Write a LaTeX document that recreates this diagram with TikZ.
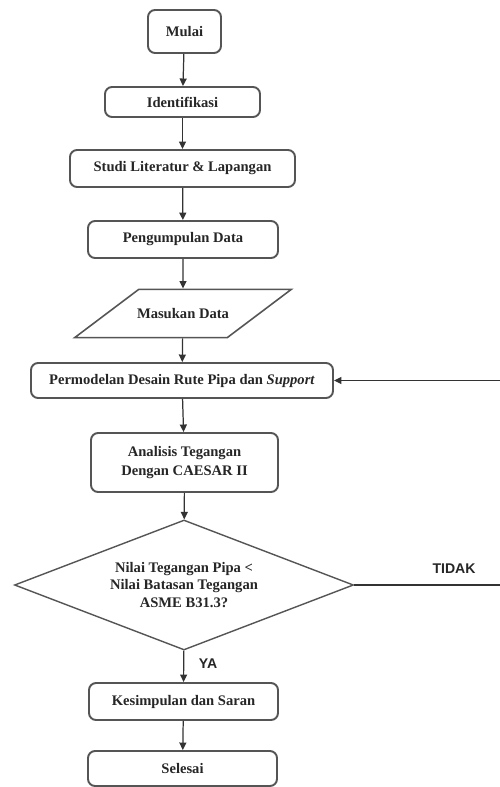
\documentclass[tikz,border=0pt]{standalone}
\usepackage{fontspec}
\setmainfont{Liberation Serif}
\newfontfamily\lblfont{Liberation Sans}
\usetikzlibrary{arrows.meta,shapes.geometric}
\definecolor{ink}{HTML}{262626}
\definecolor{edge}{HTML}{555555}
\definecolor{wire}{HTML}{333333}
\tikzset{
  proc/.style={draw=edge, line width=1.1pt, rounded corners=4pt, fill=white, align=center,
               font=\fontsize{8.3}{11.2}\selectfont\bfseries, text=ink, inner sep=2pt},
  io/.style={draw=edge, line width=0.9pt, trapezium, trapezium left angle=37, trapezium right angle=143,
             trapezium stretches body=true, fill=white, align=center,
             font=\fontsize{8.3}{11.2}\selectfont\bfseries, text=ink, inner xsep=-1pt, inner ysep=0.38cm},
  dec/.style={draw=edge, line width=0.8pt, diamond, aspect=2.6, fill=white, align=center,
              font=\fontsize{8.3}{10.2}\selectfont\bfseries, text=ink, inner sep=1pt},
  flow/.style={-{Triangle[length=1.5mm,width=1.4mm]}, line width=0.7pt, draw=wire},
  ans/.style={font=\lblfont\fontsize{8}{9}\selectfont\bfseries, text=ink},
}

\begin{document}
\begin{tikzpicture}
\useasboundingbox (0,0) rectangle (9.98,-15.74);
  % main chain
  \node[proc, minimum width=1.46cm, minimum height=0.86cm] (mulai) at (3.69,-0.63) {Mulai};
  \node[proc, minimum width=3.10cm, minimum height=0.60cm] (ident) at (3.65,-2.04) {Identifikasi};
  \node[proc, minimum width=4.50cm, minimum height=0.74cm] (studi) at (3.65,-3.37) {Studi Literatur \& Lapangan};
  \node[proc, minimum width=3.80cm, minimum height=0.74cm] (kumpul) at (3.66,-4.79) {Pengumpulan Data};
  \node[io] (masuk) at (3.66,-6.27) {Masukan Data};
  \node[proc, minimum width=6.04cm, minimum height=0.70cm] (model) at (3.64,-7.61) {Permodelan Desain Rute Pipa dan \textit{Support}};
  \node[proc, minimum width=3.74cm, minimum height=1.18cm] (analisis) at (3.69,-9.25) {Analisis Tegangan\\Dengan CAESAR II};
  \node[dec, minimum width=6.78cm, minimum height=2.60cm] (cek) at (3.68,-11.70) {Nilai Tegangan Pipa <\\Nilai Batasan Tegangan\\ASME B31.3?};
  \node[proc, minimum width=3.78cm, minimum height=0.74cm] (simpul) at (3.67,-14.03) {Kesimpulan dan Saran};
  \node[proc, minimum width=3.78cm, minimum height=0.70cm] (selesai) at (3.65,-15.37) {Selesai};
  \draw[flow] (mulai) -- (ident);
  \draw[flow] (ident) -- (studi);
  \draw[flow] (studi) -- (kumpul);
  \draw[flow] (kumpul) -- (masuk);
  \draw[flow] (masuk) -- (model);
  \draw[flow] (model) -- (analisis);
  \draw[flow] (analisis) -- (cek);
  \draw[flow] (cek) -- node[ans, right=5pt, pos=0.4] (ya) {YA} (simpul);
  \draw[flow] (simpul) -- (selesai);
  % loop back (runs off the right edge)
  \coordinate (balik) at (10.03,-11.70);
  \draw[flow] (cek.east) -- (balik) |- (model.east);
  \node[ans] (tidak) at (9.08,-11.38) {TIDAK};
\end{tikzpicture}
\end{document}
